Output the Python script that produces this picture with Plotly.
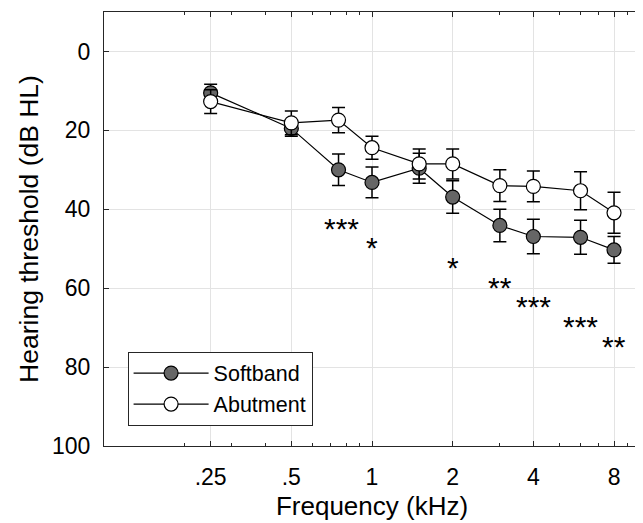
import math
import plotly.graph_objects as go

freq = [0.25, 0.5, 0.75, 1, 1.5, 2, 3, 4, 6, 8]
softband = [10.5, 19.5, 30.0, 33.2, 29.6, 36.9, 44.1, 46.9, 47.1, 50.3]
softband_err = [2.2, 2.0, 4.0, 3.9, 3.8, 4.1, 4.1, 4.4, 4.3, 3.4]
abutment = [12.7, 18.1, 17.4, 24.4, 28.5, 28.5, 34.0, 34.2, 35.3, 40.9]
abutment_err = [3.0, 3.0, 3.2, 2.9, 3.8, 3.8, 4.0, 3.9, 4.8, 5.2]

sig_freq = [0.77, 1, 2, 3, 4, 6, 8]
sig_y = [43.5, 48.5, 53.5, 58.5, 63.5, 68.5, 73.5]
sig_labels = ["***", "*", "*", "**", "***", "***", "**"]

x_ticks = [0.25, 0.5, 1, 2, 4, 8]
x_ticklabels = [".25", ".5", "1", "2", "4", "8"]
x_minor = [0.2, 0.3, 0.4, 0.5, 0.6, 0.7, 0.8, 0.9, 1, 2, 3, 4, 5, 6, 7, 8, 9]
y_ticks = [0, 20, 40, 60, 80, 100]

FONT = "Liberation Sans, Arial, Helvetica, sans-serif"
AX = "#262626"

fig = go.Figure()
fig.add_trace(go.Scatter(
    x=freq, y=softband, name="Softband", mode="lines+markers",
    line=dict(color="black", width=1.2),
    marker=dict(size=14, color="#666666", line=dict(color="black", width=1.2)),
    error_y=dict(type="data", array=softband_err, color="black", thickness=1.5, width=6.5),
))
fig.add_trace(go.Scatter(
    x=freq, y=abutment, name="Abutment", mode="lines+markers",
    line=dict(color="black", width=1.2),
    marker=dict(size=14, color="white", line=dict(color="black", width=1.2)),
    error_y=dict(type="data", array=abutment_err, color="black", thickness=1.5, width=6.5),
))

for fx, fy, lab in zip(sig_freq, sig_y, sig_labels):
    fig.add_annotation(x=math.log10(fx), y=fy, xref="x", yref="y", text=lab, showarrow=False,
                       font=dict(family=FONT, size=30, color="black"), yshift=-5)

fig.update_layout(
    width=635, height=515,
    margin=dict(l=96, r=3, t=4, b=77),
    paper_bgcolor="white", plot_bgcolor="white",
    font=dict(family=FONT, color="#262626"),
    showlegend=True,
    legend=dict(x=0.044, y=0.047, xanchor="left", yanchor="bottom",
                bgcolor="white", bordercolor=AX, borderwidth=1,
                font=dict(family=FONT, size=21.5, color="black"),
                itemwidth=75, tracegroupgap=0),
)
fig.update_xaxes(
    type="log", range=[-1, 1], automargin=False,
    tickmode="array", tickvals=x_ticks, ticktext=x_ticklabels,
    tickfont=dict(family=FONT, size=23, color="black"),
    ticks="inside", ticklen=5, tickcolor=AX,
    minor=dict(tickmode="array", tickvals=x_minor, ticks="inside", ticklen=3, tickcolor=AX, showgrid=False),
    showgrid=True, gridcolor="#e3e3e3", gridwidth=1,
    showline=True, linecolor=AX, linewidth=1, mirror="ticks",
    zeroline=False, ticklabelstandoff=10,
    title=dict(text="Frequency (kHz)", font=dict(family=FONT, size=26, color="black"), standoff=8),
)
fig.update_yaxes(
    range=[100, -10], automargin=False,
    tickmode="array", tickvals=y_ticks,
    tickfont=dict(family=FONT, size=23, color="black"),
    ticks="inside", ticklen=5, tickcolor=AX,
    showgrid=True, gridcolor="#e3e3e3", gridwidth=1,
    showline=True, linecolor=AX, linewidth=1, mirror="ticks",
    zeroline=False, ticklabelstandoff=8,
    title=dict(text="Hearing threshold (dB HL)", font=dict(family=FONT, size=26.5, color="black"), standoff=5),
)
fig.write_html("out.html")
